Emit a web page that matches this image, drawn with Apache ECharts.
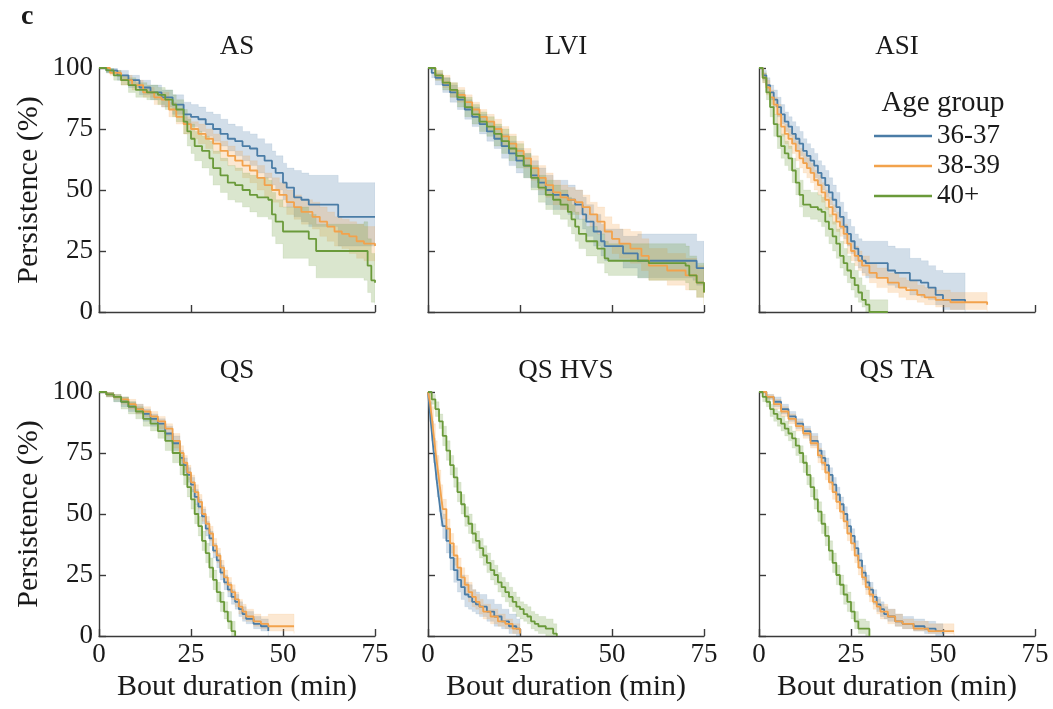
<!DOCTYPE html>
<html><head><meta charset="utf-8">
<script src="https://cdn.jsdelivr.net/npm/echarts@6/dist/echarts.min.js"></script>
<style>html,body{margin:0;padding:0;background:#fff}#c{width:1053px;height:709px}</style>
</head><body><div id="c"></div>
<script>
// ---- data: each row = [time (min), persistence %, CI lower, CI upper] ----
const groups = ['36-37', '38-39', '40+'];
const panelTitles = ['AS', 'LVI', 'ASI', 'QS', 'QS HVS', 'QS TA'];
const xTicks = [0, 25, 50, 75];
const yTicks = [0, 25, 50, 75, 100];

const AS_3637 = [[0,100,100,100],[2,99,98,100],[5,97,95,99],[8,95,92,97],[11,92,89,95],[14,90,87,93],[17,88,84,91],[20,85,81,89],[23,81,77,86],[25,80,76,85],[27,79,74,84],[29,77,72,82],[31,75,70,81],[33,73,68,79],[35,71,66,77],[37,70,64,76],[39,68,62,74],[41,67,60,73],[43,64,57,71],[45,62,55,69],[47,59,52,66],[48,57,50,64],[50,53,46,61],[51,51,43,59],[53,47,39,58],[55,46,37,57],[57,44,35,56],[65,39,27,53],[75,39,27,53]];
const AS_3839 = [[0,100,100,100],[3,98,97,99],[6,95,93,97],[9,93,91,95],[12,90,88,92],[15,88,85,90],[17,87,84,90],[19,83,80,86],[21,80,77,83],[23,77,73,80],[25,75,71,78],[27,73,69,77],[29,71,67,75],[31,69,65,73],[33,66,62,70],[35,64,60,68],[37,62,58,66],[39,60,55,64],[41,58,53,62],[43,55,50,60],[45,52,47,57],[47,50,45,55],[49,48,43,53],[51,45,40,50],[53,43,38,48],[55,41,36,46],[58,39,34,45],[60,37,31,43],[62,35,29,41],[64,33,27,39],[66,32,26,38],[68,31,24,37],[70,29,22,36],[72,28,21,35],[75,27,19,35]];
const AS_40p = [[0,100,100,100],[2,99,98,100],[4,97,95,99],[6,95,93,97],[8,93,90,96],[10,91,88,94],[13,90,87,93],[16,89,85,92],[18,87,83,91],[20,85,80,89],[21,83,78,87],[23,78,73,83],[24,74,68,79],[25,71,65,77],[26,68,62,74],[28,66,59,72],[30,63,56,70],[31,59,52,66],[33,56,49,63],[35,53,46,60],[37,52,45,59],[39,50,43,57],[41,48,41,56],[43,47,39,55],[46,46,38,54],[47,40,31,49],[48,37,28,46],[50,33,22,43],[57,30,19,40],[59,25,14,36],[72,25,13,37],[73,19,8,30],[74,13,4,24],[75,12,3,22]];

const LVI_3637 = [[0,100,100,100],[1,98,96,100],[2,96,93,98],[4,93,90,96],[6,90,86,93],[8,87,83,90],[10,83,79,87],[12,80,76,84],[14,77,73,81],[16,74,70,78],[18,71,67,76],[20,68,63,73],[22,65,60,70],[24,62,57,67],[26,60,55,65],[28,56,51,62],[30,53,48,59],[32,50,44,56],[34,48,42,54],[38,46,40,52],[40,44,38,50],[42,40,34,47],[43,37,31,44],[45,33,27,40],[47,29,23,36],[48,27,21,34],[53,24,18,31],[57,21,14,32],[72,21,13,32],[73,18,11,29],[75,18,11,29]];
const LVI_3839 = [[0,100,100,100],[2,97,95,99],[4,94,92,97],[6,91,88,94],[8,89,86,92],[10,86,83,89],[12,83,80,86],[14,80,77,83],[16,78,74,81],[18,75,71,79],[20,72,68,76],[22,69,65,73],[24,66,62,70],[26,63,59,67],[28,59,54,64],[30,55,50,60],[32,52,47,57],[34,49,44,54],[36,47,42,52],[38,46,41,51],[40,45,40,50],[42,43,38,48],[44,40,35,45],[46,37,32,43],[48,33,27,39],[50,30,24,36],[52,28,22,34],[55,26,20,33],[58,23,17,30],[60,19,13,26],[65,17,11,24],[70,15,9,22],[73,12,6,19],[75,8,3,15]];
const LVI_40p = [[0,100,100,100],[2,97,95,99],[4,94,91,96],[6,91,88,94],[8,88,84,91],[10,84,80,88],[12,81,77,85],[14,78,74,82],[16,76,72,80],[18,73,68,77],[20,70,65,75],[22,67,62,72],[24,64,59,69],[26,60,55,65],[28,55,50,60],[30,51,45,56],[32,48,42,54],[34,46,40,52],[36,44,38,50],[38,41,35,47],[39,38,32,44],[40,35,29,41],[41,32,26,38],[43,29,23,35],[46,26,20,32],[48,22,16,29],[49,21,15,28],[57,21,14,28],[60,20,13,28],[70,19,12,27],[71,15,9,23],[73,12,6,20],[75,8,3,16]];

const ASI_3637 = [[0,100,100,100],[1,97,95,99],[2,93,90,96],[3,90,87,93],[4,87,84,91],[5,84,80,88],[6,81,77,85],[7,78,74,82],[8,76,72,80],[9,73,69,78],[10,71,66,76],[11,69,64,74],[12,66,61,71],[13,64,59,69],[14,62,57,67],[15,60,55,65],[16,57,52,62],[17,55,50,60],[18,52,47,58],[19,49,44,55],[20,46,41,52],[21,43,38,49],[22,39,34,45],[23,35,30,41],[24,32,27,38],[25,29,24,35],[26,26,21,32],[27,23,18,30],[28,21,16,29],[29,20,14,29],[35,17,11,27],[37,16,10,26],[41,13,7,22],[44,12,6,21],[46,10,5,19],[48,7,3,17],[50,5,1,16],[56,4,0,14]];
const ASI_3839 = [[0,100,100,100],[1,96,94,98],[2,92,89,95],[3,88,85,91],[4,85,81,88],[5,81,77,85],[6,76,72,80],[7,73,69,77],[8,71,67,75],[9,69,65,73],[10,66,62,70],[11,63,59,67],[12,61,57,65],[13,59,55,63],[14,57,53,61],[15,54,50,58],[16,52,48,56],[17,49,45,53],[18,46,42,50],[19,43,39,47],[20,40,36,44],[21,37,33,41],[22,35,31,39],[23,32,28,36],[24,28,24,32],[25,25,21,29],[26,23,19,27],[27,21,17,25],[28,19,15,23],[30,16,12,20],[32,14,10,18],[35,12,8,16],[38,10,6,14],[40,9,5,13],[43,7,4,11],[45,6,3,10],[48,5,2,9],[52,4,1,8],[62,3,0,8]];
const ASI_40p = [[0,100,100,100],[1,96,94,98],[2,90,87,93],[3,84,80,88],[4,77,72,81],[5,72,67,77],[6,68,63,73],[7,65,60,70],[8,63,58,68],[9,58,53,63],[10,53,48,59],[11,48,43,54],[12,44,39,50],[14,43,38,49],[16,42,37,48],[17,41,35,47],[18,37,31,43],[19,34,28,40],[20,31,25,37],[21,28,22,34],[22,23,18,29],[23,20,15,26],[24,17,12,23],[25,14,9,20],[26,11,6,17],[27,8,4,14],[28,5,2,11],[29,3,0,9],[30,0,0,5],[35,0,0,0]];

const QS_3637 = [[0,100,100,100],[2,99,98,100],[4,98,96,99],[6,96,94,98],[8,94,92,96],[10,93,91,95],[12,91,88,93],[14,89,86,91],[16,87,84,89],[18,83,80,86],[20,79,76,82],[22,73,70,76],[23,70,67,73],[24,66,63,69],[25,62,59,65],[26,57,54,60],[27,53,50,56],[28,49,46,52],[29,44,41,47],[30,40,37,43],[31,35,32,38],[32,31,28,34],[33,26,23,29],[34,22,19,25],[35,19,16,22],[36,16,13,19],[37,14,11,17],[38,11,8,14],[39,9,6,12],[40,7,5,10],[42,5,3,8],[44,4,2,7],[46,2,0,6]];
const QS_3839 = [[0,100,100,100],[2,99,98,100],[4,98,97,99],[6,97,95,98],[8,95,93,97],[10,93,91,95],[12,92,90,94],[14,90,88,92],[16,88,85,90],[18,85,82,87],[20,80,77,83],[22,75,72,78],[23,71,68,74],[24,67,64,70],[25,63,60,66],[26,59,56,62],[27,55,52,58],[28,50,47,53],[29,46,43,49],[30,42,39,45],[31,37,34,40],[32,33,30,36],[33,28,25,31],[34,24,21,27],[35,21,18,24],[36,18,15,21],[37,15,12,18],[38,12,9,15],[39,10,7,13],[40,8,6,11],[42,6,4,9],[44,5,3,8],[46,4,2,9],[53,4,1,9]];
const QS_40p = [[0,100,100,100],[2,99,98,100],[4,98,96,99],[6,96,93,98],[8,94,91,96],[10,92,89,94],[12,89,86,92],[14,87,84,90],[16,84,81,87],[18,80,76,83],[20,75,71,79],[22,70,66,74],[23,66,62,70],[24,61,57,65],[25,56,52,60],[26,50,46,54],[27,45,41,49],[28,39,35,43],[29,34,30,38],[30,28,24,32],[31,23,19,27],[32,18,14,22],[33,14,10,18],[34,10,7,14],[35,6,3,10],[36,2,0,6],[37,0,0,3]];

const HVS_3637 = [[0,100,100,100],[0.5,92,88,96],[1,84,80,88],[1.5,76,71,81],[2,69,64,74],[2.5,62,57,67],[3,56,51,61],[3.5,50,45,55],[4,45,40,50],[5,39,34,44],[6,32,27,37],[7,27,22,32],[8,23,18,28],[9,20,15,25],[10,17,12,22],[11,16,11,21],[12,14,10,19],[13,13,9,18],[14,12,8,17],[16,10,6,15],[18,8,4,13],[20,6,3,11],[22,4,1,9],[24,3,0,7],[25,2,0,6]];
const HVS_3839 = [[0,100,100,100],[0.5,96,93,99],[1,90,86,94],[1.5,83,79,87],[2,76,72,80],[2.5,70,66,74],[3,64,60,68],[3.5,58,54,62],[4,52,48,56],[5,44,40,48],[6,38,34,42],[7,33,29,37],[8,28,24,32],[9,24,20,28],[10,21,17,25],[11,18,14,22],[12,16,12,19],[13,14,11,17],[14,12,9,15],[15,10,7,13],[17,8,5,11],[19,6,4,9],[21,5,3,7],[23,3,1,5],[25,1,0,3]];
const HVS_40p = [[0,100,100,100],[1,97,95,99],[2,93,90,96],[3,88,85,91],[4,82,78,86],[5,76,72,80],[6,70,66,74],[7,65,61,69],[8,59,55,63],[9,54,50,58],[10,49,45,53],[11,46,42,50],[12,42,38,46],[13,39,35,43],[14,36,32,40],[15,33,29,37],[16,30,26,34],[17,27,23,31],[18,25,21,29],[19,22,18,26],[20,20,16,24],[21,18,14,22],[22,16,12,20],[23,14,10,18],[24,12,8,16],[25,11,7,14],[26,9,6,13],[27,8,5,12],[28,6,3,10],[29,5,2,9],[30,4,1,8],[32,3,0,7],[34,1,0,5],[35,0,0,4]];

const TA_3637 = [[0,100,100,100],[2,98,97,99],[4,96,94,98],[6,93,91,95],[8,90,88,92],[10,87,85,89],[12,84,82,86],[14,80,78,83],[16,76,73,79],[17,73,70,76],[18,70,67,73],[19,66,63,69],[20,62,59,65],[21,58,55,61],[22,54,51,57],[23,50,47,53],[24,45,42,48],[25,41,38,44],[26,36,33,39],[27,31,28,34],[28,26,23,29],[29,22,19,25],[30,19,16,22],[31,16,13,19],[32,13,10,16],[33,11,8,14],[34,9,7,12],[35,8,6,11],[37,6,4,9],[39,5,3,8],[42,4,2,7],[45,3,1,6],[48,2,0,5],[50,1,0,5]];
const TA_3839 = [[0,100,100,100],[2,98,97,99],[4,95,93,97],[6,92,90,94],[8,89,87,91],[10,86,84,88],[12,83,81,85],[14,79,77,82],[16,74,71,77],[17,71,68,74],[18,67,64,70],[19,63,60,66],[20,59,56,62],[21,55,52,58],[22,51,48,54],[23,47,44,50],[24,42,39,45],[25,38,35,41],[26,33,30,36],[27,28,25,31],[28,24,21,27],[29,20,17,23],[30,17,14,20],[31,14,11,17],[32,12,9,15],[33,10,7,13],[35,8,5,11],[37,6,4,9],[39,5,3,7],[42,3,2,6],[46,2,1,5],[53,2,0,5]];
const TA_40p = [[0,100,100,100],[1,98,96,99],[2,96,94,98],[3,93,90,95],[4,91,88,93],[5,89,86,92],[6,87,84,90],[7,85,82,88],[8,83,80,86],[9,81,77,84],[10,78,74,81],[11,75,71,78],[12,71,67,74],[13,66,62,70],[14,61,57,65],[15,56,52,60],[16,51,47,55],[17,46,42,50],[18,41,37,45],[19,35,31,39],[20,30,26,34],[21,25,21,29],[22,21,17,25],[23,17,13,21],[24,14,10,18],[25,10,7,14],[26,6,3,10],[27,3,1,7],[29,3,0,6],[30,0,0,3]];

const panelData = [
  [AS_3637, AS_3839, AS_40p],
  [LVI_3637, LVI_3839, LVI_40p],
  [ASI_3637, ASI_3839, ASI_40p],
  [QS_3637, QS_3839, QS_40p],
  [HVS_3637, HVS_3839, HVS_40p],
  [TA_3637, TA_3839, TA_40p]
];

// ---- styling / layout ----
const colors = ['#4a7ca6', '#f2a24c', '#6a9a3a'];
const FONT = '"Liberation Serif", "DejaVu Serif", serif';
const TXT = '#1a1a1a';
const AXC = '#3a3a3a';
const lefts = [99, 428, 759];
const tops = [68, 392];
const W = 276, H = 244;

const grids = [], xAxes = [], yAxes = [], series = [], graphic = [];
panelData.forEach((curves, p) => {
  const row = Math.floor(p / 3), col = p % 3;
  grids.push({left: lefts[col], top: tops[row], width: W, height: H, containLabel: false});
  xAxes.push({
    type: 'value', gridIndex: p, min: xTicks[0], max: xTicks[xTicks.length - 1], interval: 25,
    axisLine: {show: true, lineStyle: {color: AXC, width: 1.4}},
    axisTick: {show: true, inside: true, length: 7, lineStyle: {color: AXC, width: 1.4}},
    axisLabel: {show: row === 1, fontFamily: FONT, fontSize: 27, color: TXT, margin: 5},
    splitLine: {show: false},
    name: row === 1 ? 'Bout duration (min)' : '', nameLocation: 'middle', nameGap: 36,
    nameTextStyle: {fontFamily: FONT, fontSize: 30, color: TXT}
  });
  yAxes.push({
    type: 'value', gridIndex: p, min: yTicks[0], max: yTicks[yTicks.length - 1], interval: 25,
    axisLine: {show: true, lineStyle: {color: AXC, width: 1.4}},
    axisTick: {show: true, inside: true, length: 7, lineStyle: {color: AXC, width: 1.4}},
    axisLabel: {show: col === 0, fontFamily: FONT, fontSize: 27, color: TXT, margin: 6},
    splitLine: {show: false},
    name: col === 0 ? 'Persistence (%)' : '', nameLocation: 'middle', nameGap: 55,
    nameTextStyle: {fontFamily: FONT, fontSize: 30, color: TXT}
  });
  // step-shaped confidence bands, placed through the axis scales (api.coord)
  curves.forEach((rows, g) => {
    series.push({
      type: 'custom', name: 'ci', xAxisIndex: p, yAxisIndex: p, silent: true, z: 1,
      clip: true,
      data: rows,
      encode: {x: 0, y: [1, 2, 3]},
      renderItem: function (params, api) {
        if (params.dataIndex !== 0) return null;
        const pts = [];
        for (let i = 0; i < rows.length; i++) {
          pts.push(api.coord([rows[i][0], rows[i][3]]));
          if (i < rows.length - 1) pts.push(api.coord([rows[i + 1][0], rows[i][3]]));
        }
        for (let i = rows.length - 1; i >= 0; i--) {
          if (i < rows.length - 1) pts.push(api.coord([rows[i + 1][0], rows[i][2]]));
          pts.push(api.coord([rows[i][0], rows[i][2]]));
        }
        return {
          type: 'polygon', shape: {points: pts},
          style: {fill: colors[g], opacity: 0.25, stroke: colors[g], lineWidth: 0.8, strokeOpacity: 0.5}
        };
      }
    });
  });
  curves.forEach((rows, g) => {
    series.push({
      type: 'line', name: groups[g], xAxisIndex: p, yAxisIndex: p, step: 'end',
      symbol: 'none', z: 3, color: colors[g],
      lineStyle: {width: 1.8, color: colors[g]},
      data: rows.map(r => [r[0], r[1]])
    });
  });
  graphic.push({
    type: 'text', x: lefts[col] + W / 2, y: row === 0 ? 47 : 371, z: 10,
    style: {text: panelTitles[p], textAlign: 'center', textVerticalAlign: 'middle',
      font: '27px ' + FONT, fill: TXT}
  });
});
graphic.push({type: 'text', x: 21, y: 17, style: {text: 'c', textAlign: 'left', textVerticalAlign: 'middle', font: 'bold 28px ' + FONT, fill: TXT}});
graphic.push({type: 'text', x: 943, y: 103, style: {text: 'Age group', textAlign: 'center', textVerticalAlign: 'middle', font: '29px ' + FONT, fill: TXT}});

const chart = echarts.init(document.getElementById('c'), null, {renderer: 'canvas'});
chart.setOption({
  animation: false,
  backgroundColor: '#fff',
  grid: grids, xAxis: xAxes, yAxis: yAxes, series: series, graphic: graphic,
  legend: {
    data: groups, orient: 'vertical', left: 869, top: 116, icon: 'rect',
    itemWidth: 58, itemHeight: 2.5, itemGap: 0, selectedMode: false,
    textStyle: {fontFamily: FONT, fontSize: 27, color: TXT, lineHeight: 30}
  }
});
</script>
</body></html>
